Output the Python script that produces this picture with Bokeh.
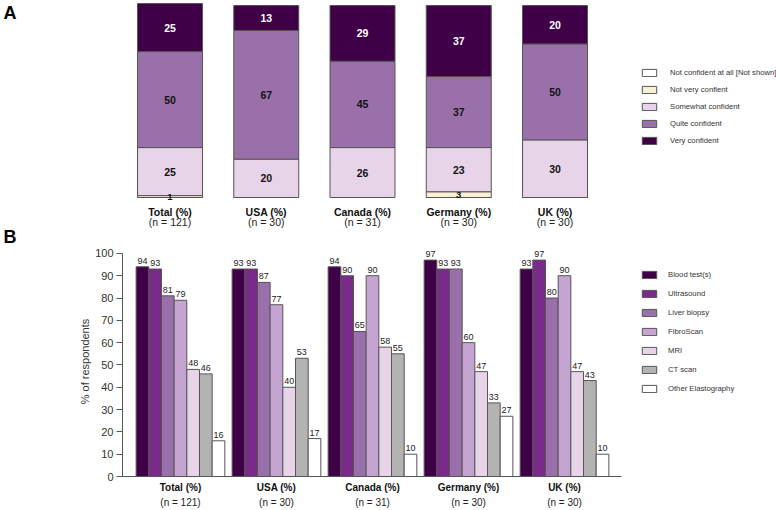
from bokeh.plotting import figure
from bokeh.models import (Range1d, ColumnDataSource, LabelSet, Legend, LegendItem,
                          FixedTicker, LinearAxis)
from bokeh.layouts import column
from bokeh.transform import dodge
from bokeh.core.properties import value
from bokeh.embed import file_html
from bokeh.resources import INLINE

FONT = "Liberation Sans"

# ---------------- data ----------------
groups = ["Total (%)", "USA (%)", "Canada (%)", "Germany (%)", "UK (%)"]
ns = ["(n = 121)", "(n = 30)", "(n = 31)", "(n = 30)", "(n = 30)"]

conf_levels = ["Not confident at all [Not shown]", "Not very confient",
               "Somewhat confident", "Quite confident", "Very confident"]
not_at_all = [0, 0, 0, 0, 0]
not_very = [1, 0, 0, 3, 0]
somewhat = [25, 20, 26, 23, 30]
quite = [50, 67, 45, 37, 50]
very = [25, 13, 29, 37, 20]
conf_colors = ["#ffffff", "#f7f0d3", "#e8d4e8", "#9a70ab", "#3f0047"]

tests = ["Blood test(s)", "Ultrasound", "Liver biopsy", "FibroScan", "MRI",
         "CT scan", "Other Elastography"]
blood = [94, 93, 94, 97, 93]
ultrasound = [93, 93, 90, 93, 97]
biopsy = [81, 87, 65, 93, 80]
fibroscan = [79, 77, 90, 60, 90]
mri = [48, 40, 58, 47, 47]
ct = [46, 53, 55, 33, 43]
other = [16, 17, 10, 27, 10]
test_colors = ["#3f0047", "#7a2a88", "#9a70ab", "#c4a4d1", "#e8d4e8", "#b3b3b3", "#ffffff"]

panel_letters = {96: "A", -21: "B"}

W = 776
HA = 246
HB = 264
LEFT = 122

xs = list(range(len(groups)))

# ---------------- panel A ----------------
keysA = ["s0", "s1", "s2", "s3", "s4"]
seriesA = [not_at_all, not_very, somewhat, quite, very]
dataA = dict(x=xs)
for k, s in zip(keysA, seriesA):
    dataA[k] = s
srcA = ColumnDataSource(dataA)

pA = figure(width=W, height=HA, output_backend="svg", toolbar_location=None,
            x_range=Range1d(-0.4935, 6.301), y_range=Range1d(-25.52, 102.6),
            x_axis_location=None, min_border_left=LEFT, min_border_right=0,
            min_border_top=0, min_border_bottom=0)
pA.grid.visible = False
pA.outline_line_color = None

# panel letters shown as the left-border labels of panel A
pA.yaxis.ticker = FixedTicker(ticks=list(panel_letters.keys()))
pA.yaxis.major_label_overrides = panel_letters
pA.yaxis.major_label_text_font = FONT
pA.yaxis.major_label_text_font_style = "bold"
pA.yaxis.major_label_text_font_size = "18px"
pA.yaxis.major_label_text_color = "#000000"
pA.yaxis.major_label_standoff = 106
pA.yaxis.major_tick_out = 0
pA.yaxis.major_tick_in = 0
pA.yaxis.axis_line_color = None
pA.yaxis.major_tick_line_color = None
pA.yaxis.minor_tick_line_color = None

rsA = pA.vbar_stack(keysA, x="x", width=0.675, source=srcA,
                    fill_color=conf_colors, line_color="#555555", line_width=1)

# segment labels
lx, ly, lt, lc, lsz = [], [], [], [], []
for i in xs:
    base = 0
    for j, s in enumerate(seriesA):
        v = s[i]
        if v > 0:
            lx.append(i)
            ly.append(base + v / 2)
            lt.append(str(v))
            lc.append("#ffffff" if j == 4 else "#111111")
            lsz.append("9.5px" if v < 5 else "10.5px")
        base += v
segsrc = ColumnDataSource(dict(x=lx, y=ly, t=lt, c=lc, s=lsz))
pA.add_layout(LabelSet(x="x", y="y", text="t", source=segsrc, text_color="c",
                       text_font_size="s", text_font=value(FONT), text_font_style="bold",
                       text_align="center", text_baseline="middle"))

catA = ColumnDataSource(dict(x=xs, y1=[-7.3] * 5, y2=[-12.5] * 5, g=groups, n=ns))
pA.add_layout(LabelSet(x="x", y="y1", text="g", source=catA, text_font=value(FONT),
                       text_font_size="10.5px", text_font_style="bold", text_color="#111111",
                       text_align="center", text_baseline="middle"))
pA.add_layout(LabelSet(x="x", y="y2", text="n", source=catA, text_font=value(FONT),
                       text_font_size="10.5px", text_color="#222222",
                       text_align="center", text_baseline="middle"))

legA = Legend(items=[LegendItem(label=l, renderers=[r]) for l, r in zip(conf_levels, rsA)],
              location=(518, 101.5), orientation="vertical",
              glyph_width=18, glyph_height=9, label_height=9, label_width=10,
              label_standoff=12, spacing=8, padding=0, margin=0,
              border_line_color=None, background_fill_alpha=0,
              label_text_font=FONT, label_text_font_size="7.7px", label_text_color="#333333")
pA.add_layout(legA, "center")

# ---------------- panel B ----------------
seriesB = [blood, ultrasound, biopsy, fibroscan, mri, ct, other]
keysB = ["b0", "b1", "b2", "b3", "b4", "b5", "b6"]
dataB = dict(x=xs)
for k, s in zip(keysB, seriesB):
    dataB[k] = s
    dataB[k + "t"] = [str(v) for v in s]
srcB = ColumnDataSource(dataB)

XB0, XB1 = -0.604, 6.208
pB = figure(width=W, height=HB, output_backend="svg", toolbar_location=None,
            x_range=Range1d(XB0, XB1), y_range=Range1d(0, 103.1),
            min_border_left=LEFT, min_border_right=0, min_border_top=0,
            min_border_bottom=32)
pB.grid.visible = False
pB.outline_line_color = None

bw = 0.132
rsB = []
for j, k in enumerate(keysB):
    off = (j - 3) * bw
    r = pB.vbar(x=dodge("x", off), top=k, width=bw, source=srcB,
                fill_color=test_colors[j], line_color="#555555", line_width=1)
    rsB.append(r)
    pB.add_layout(LabelSet(x=dodge("x", off), y=k, text=k + "t", source=srcB,
                           y_offset=3, text_font=value(FONT), text_font_size="9px",
                           text_color="#222222", text_align="center",
                           text_baseline="bottom"))

yax = pB.yaxis[0]
yax.bounds = (0, 100)
yax.ticker = FixedTicker(ticks=list(range(0, 101, 10)))
yax.axis_label = "% of respondents"
yax.axis_label_text_font = FONT
yax.axis_label_text_font_style = "normal"
yax.axis_label_text_font_size = "11px"
yax.axis_label_text_color = "#333333"
yax.axis_label_standoff = 1
yax.major_label_text_font = FONT
yax.major_label_text_font_size = "11px"
yax.major_label_text_color = "#333333"
yax.major_label_standoff = 3
yax.major_tick_out = 6
yax.major_tick_in = 0
yax.minor_tick_line_color = None
yax.axis_line_color = "#555555"
yax.major_tick_line_color = "#555555"

xax = pB.xaxis[0]
xax.bounds = (XB0, 4.594)
xax.ticker = FixedTicker(ticks=xs)
xax.major_label_overrides = {i: g for i, g in zip(xs, groups)}
xax.major_label_text_font = FONT
xax.major_label_text_font_style = "bold"
xax.major_label_text_font_size = "10px"
xax.major_label_text_color = "#111111"
xax.major_label_standoff = 5
xax.major_tick_out = 0
xax.major_tick_in = 0
xax.major_tick_line_color = None
xax.minor_tick_line_color = None
xax.axis_line_color = "#555555"

xax2 = LinearAxis(ticker=FixedTicker(ticks=xs),
                  major_label_overrides={i: n for i, n in zip(xs, ns)},
                  major_label_text_font=FONT, major_label_text_font_size="10px",
                  major_label_text_color="#222222", major_label_standoff=1,
                  major_tick_out=0, major_tick_in=0,
                  axis_line_color=None, major_tick_line_color=None,
                  minor_tick_line_color=None)
pB.add_layout(xax2, "below")

legB = Legend(items=[LegendItem(label=l, renderers=[r]) for l, r in zip(tests, rsB)],
              location=(518, 83.5), orientation="vertical",
              glyph_width=18, glyph_height=9, label_height=9, label_width=10,
              label_standoff=10, spacing=10, padding=0, margin=0,
              border_line_color=None, background_fill_alpha=0,
              label_text_font=FONT, label_text_font_size="7.7px", label_text_color="#333333")
pB.add_layout(legB, "center")

layout = column(pA, pB, spacing=0)
open("out.html", "w").write(file_html(layout, INLINE))
